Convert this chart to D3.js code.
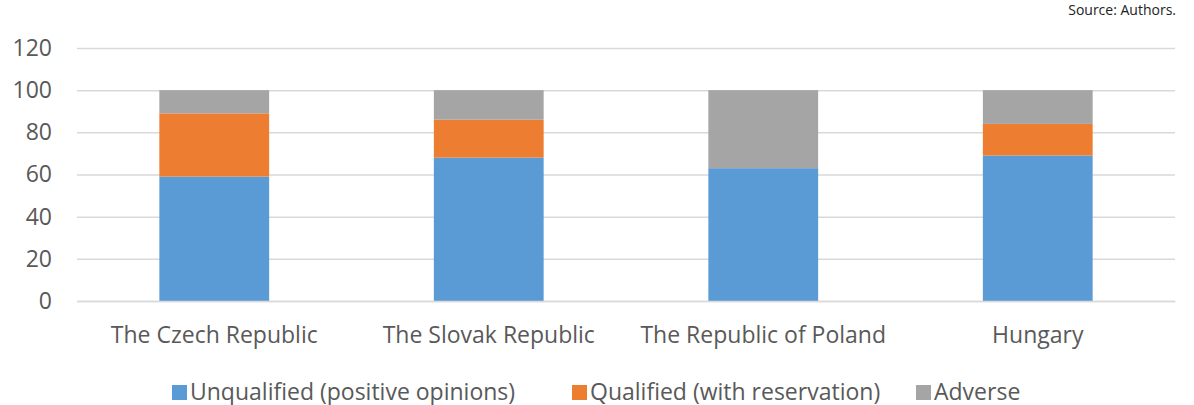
<!DOCTYPE html>
<html>
  <head>
    <title>Audit opinions</title>
    <script src="https://cdn.jsdelivr.net/npm/d3@7"></script>
    <style>
      body { margin: 0; background: #fff; }
      svg { display: block; }
      text { font-family: "Open Sans", sans-serif; }
    </style>
  </head>
  <body>
    <svg width="1194" height="405" id="mainsvg"></svg>
    <script>
      const categories = ['The Czech Republic', 'The Slovak Republic', 'The Republic of Poland', 'Hungary'];
      const unqualified = [59, 68, 63, 69];
      const qualified = [30, 18, 0, 15];
      const adverse = [11, 14, 37, 16];
      const seriesNames = ['Unqualified (positive opinions)', 'Qualified (with reservation)', 'Adverse'];
      const colors = ['#5b9bd5', '#ed7d31', '#a5a5a5'];
      const yTicks = [0, 20, 40, 60, 80, 100, 120];

      const svg = d3.select('#mainsvg');
      const margin = {top: 48, right: 19, bottom: 104, left: 77};
      const innerWidth = +svg.attr('width') - margin.left - margin.right;
      const innerHeight = +svg.attr('height') - margin.top - margin.bottom;

      const g = svg.append('g')
        .attr('transform', `translate(${margin.left}, ${margin.top})`);

      const xScale = d3.scaleBand()
        .domain(categories)
        .range([0, innerWidth])
        .paddingInner(0.6)
        .paddingOuter(0.3);

      const yScale = d3.scaleLinear()
        .domain([0, 120])
        .range([innerHeight, 0]);

      // gridlines + tick labels
      const yAxis = d3.axisLeft(yScale).tickValues(yTicks).tickSize(-innerWidth).tickPadding(25);
      const yAxisGroup = g.append('g').call(yAxis);
      yAxisGroup.select('.domain').remove();
      yAxisGroup.selectAll('line').attr('stroke', '#d9d9d9').attr('stroke-width', 1.5);
      yAxisGroup.selectAll('text').attr('fill', '#595959').style('font-size', '23px');

      // stack the three series
      const table = categories.map((c, i) => ({cat: c, s0: unqualified[i], s1: qualified[i], s2: adverse[i]}));
      const stacked = d3.stack().keys(['s0', 's1', 's2'])(table);

      g.selectAll('.series')
        .data(stacked)
        .enter().append('g')
        .attr('fill', (d, i) => colors[i])
        .selectAll('rect')
        .data(d => d)
        .enter().append('rect')
        .attr('x', d => xScale(d.data.cat))
        .attr('width', xScale.bandwidth())
        .attr('y', d => yScale(d[1]))
        .attr('height', d => yScale(d[0]) - yScale(d[1]));

      // category labels
      const xAxis = d3.axisBottom(xScale).tickSize(0).tickPadding(26);
      const xAxisGroup = g.append('g').attr('transform', `translate(0, ${innerHeight})`).call(xAxis);
      xAxisGroup.select('.domain').attr('stroke', '#d9d9d9').attr('stroke-width', 1.5);
      xAxisGroup.selectAll('text').attr('fill', '#595959').style('font-size', '23px');

      // legend
      const legendX = [172, 572, 916];
      const legend = svg.append('g').attr('transform', 'translate(0, 392)');
      seriesNames.forEach((name, i) => {
        legend.append('rect').attr('x', legendX[i]).attr('y', -7).attr('width', 15).attr('height', 15).attr('fill', colors[i]);
        legend.append('text').attr('x', legendX[i] + 18).attr('y', 0).attr('dy', '0.35em')
          .attr('fill', '#595959').style('font-size', '23px').text(name);
      });

      svg.append('text')
        .attr('x', 1176).attr('y', 15)
        .attr('text-anchor', 'end')
        .attr('fill', '#222')
        .style('font-size', '14px')
        .text('Source: Authors.');
    </script>
  </body>
</html>
